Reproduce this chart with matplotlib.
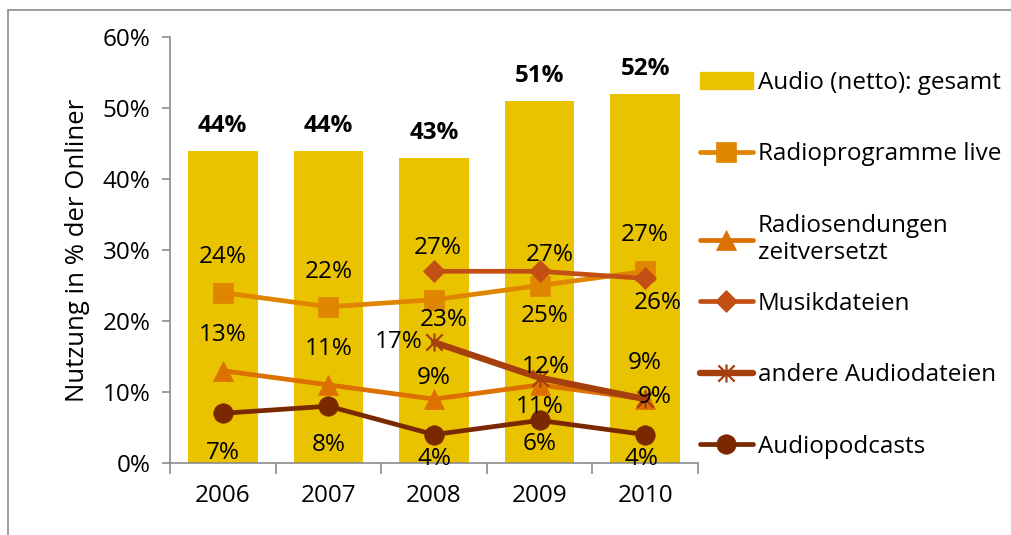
import numpy as np
import matplotlib.pyplot as plt
from matplotlib.path import Path
from matplotlib.patches import Rectangle, Patch
from matplotlib.lines import Line2D

plt.rcParams['font.family'] = ['Open Sans', 'DejaVu Sans']

years = ["2006", "2007", "2008", "2009", "2010"]
audio_gesamt = [44, 44, 43, 51, 52]
radio_live = [24, 22, 23, 25, 27]
radio_zeitversetzt = [13, 11, 9, 11, 9]
musikdateien = [np.nan, np.nan, 27, 27, 26]
andere_audio = [np.nan, np.nan, 17, 12, 9]
audiopodcasts = [7, 8, 4, 6, 4]

FS = 17.5

# asterisk marker: vertical stroke plus two diagonals
star = Path([(0, -1), (0, 1), (-0.9, -0.9), (0.9, 0.9), (-0.9, 0.9), (0.9, -0.9)],
            [Path.MOVETO, Path.LINETO] * 3)

# (values, legend text, colour, marker, markersize, linewidth, label offsets in px)
series = [
    (radio_live, "Radioprogramme live", "#E08500", "s", 14, 3.4,
     [(0, 36), (0, 35), (10, -20), (5, -30), (0, 36)]),
    (radio_zeitversetzt, "Radiosendungen\nzeitversetzt", "#DC7000", "^", 14, 3.4,
     [(0, 36), (0, 36), (0, 21), (0, -22), (10, 2)]),
    (musikdateien, "Musikdateien", "#C34F14", "D", 11, 3.4,
     [None, None, (4, 23), (10, 16), (13, -25)]),
    (andere_audio, "andere Audiodateien", "#A53F0C", star, 13, 4.6,
     [None, None, (-35, 0), (6, 11), (0, 36)]),
    (audiopodcasts, "Audiopodcasts", "#7A2800", "o", 14, 3.4,
     [(0, -40), (0, -39), (0, -24), (0, -24), (-4, -24)]),
]

fig = plt.figure(figsize=(10.11, 5.35), dpi=100)
ax = fig.add_axes([170 / 1011, 1 - 463 / 535, 528 / 1011, 426 / 535])

# outer frame
fig.patches.append(Rectangle((8 / 1011, -0.1), 1.2, 1 - 10 / 535 + 0.1,
                             transform=fig.transFigure, fill=False,
                             edgecolor="#8c8c8c", linewidth=1.2))

x = np.arange(len(years))
ax.bar(x, audio_gesamt, width=0.66, color="#EAC300", zorder=1)
for xi, v in zip(x, audio_gesamt):
    ax.annotate(f"{v}%", (xi, v), xytext=(0, 25 * 0.72), textcoords="offset points",
                ha="center", va="center", fontsize=FS, fontweight="bold")

for vals, name, col, mk, ms, lw, offs in series:
    ax.plot(x, vals, color=col, marker=mk, markersize=ms, linewidth=lw,
            markeredgewidth=1.6 if mk is star else 0.5, markeredgecolor=col,
            solid_capstyle="round", zorder=3)
    for xi, v, off in zip(x, vals, offs):
        if off is None or np.isnan(v):
            continue
        ax.annotate(f"{v:g}%", (xi, v), xytext=(off[0] * 0.72, off[1] * 0.72),
                    textcoords="offset points", ha="center", va="center",
                    fontsize=FS, zorder=4)

ax.set_xlim(-0.5, len(years) - 0.5)
ax.set_ylim(0, 60)
ax.set_yticks(np.arange(0, 61, 10))
ax.set_yticklabels([f"{t}%" for t in range(0, 61, 10)], fontsize=FS)
ax.set_xticks(x)
ax.set_xticklabels(years, fontsize=FS)
ax.set_xticks(np.arange(-0.5, len(years), 1), minor=True)
ax.tick_params(axis="x", which="major", length=0, pad=15)
ax.tick_params(axis="x", which="minor", length=8, color="#8c8c8c", width=1.2)
ax.tick_params(axis="y", length=6, color="#8c8c8c", width=1.2, pad=8)
for side in ["top", "right"]:
    ax.spines[side].set_visible(False)
for side in ["left", "bottom"]:
    ax.spines[side].set_color("#8c8c8c")
    ax.spines[side].set_linewidth(1.2)
ax.set_ylabel("Nutzung in % der Onliner", fontsize=18.5, labelpad=9)

handles = [Patch(color="#EAC300")]
labels = ["Audio (netto): gesamt"]
for vals, name, col, mk, ms, lw, offs in series:
    handles.append(Line2D([], [], color=col, marker=mk, markersize=ms, linewidth=lw,
                          markeredgewidth=1.6 if mk is star else 0.5,
                          markeredgecolor=col, solid_capstyle="round"))
    labels.append(name)

# legend split in two blocks so the two-line entry keeps the even spacing
legend_kw = dict(loc="upper left", frameon=False, fontsize=FS, handlelength=2.2,
                 handletextpad=0.2, labelspacing=1.95, borderaxespad=0)
fig.legend(handles[:3], labels[:3], bbox_to_anchor=(690 / 1011, 1 - 61 / 535),
           **legend_kw)
fig.legend(handles[3:], labels[3:], bbox_to_anchor=(690 / 1011, 1 - 282 / 535),
           **legend_kw)

fig.savefig("out.png", dpi=100)
